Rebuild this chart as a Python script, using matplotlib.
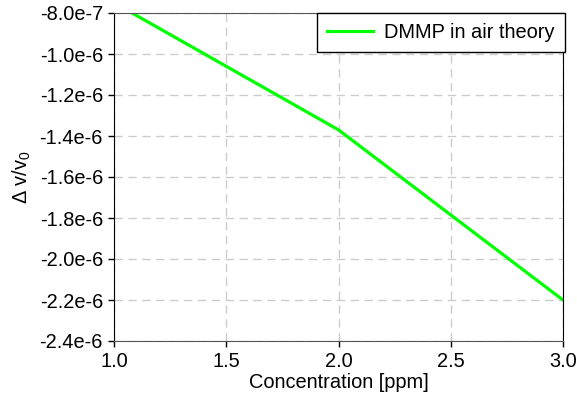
import matplotlib
matplotlib.use("Agg")
import matplotlib.pyplot as plt
from matplotlib.ticker import FuncFormatter

plt.rcParams['font.family'] = ['Liberation Sans', 'DejaVu Sans']
plt.rcParams['mathtext.fontset'] = 'custom'
plt.rcParams['mathtext.rm'] = 'Liberation Sans'
plt.rcParams['mathtext.it'] = 'Liberation Sans:italic'

concentration = [1.0, 1.5, 2.0, 2.5, 3.0]
delta_v = [-7.5e-7, -1.06e-6, -1.37e-6, -1.785e-6, -2.2e-6]
series_label = "DMMP in air theory"

FS = 14.4
fig = plt.figure(figsize=(5.77, 4.01), dpi=100)
ax = fig.add_axes([114/577, 1-341/401, (563-114)/577, (341-13)/401])
ax.plot(concentration, delta_v, color='#00ff00', lw=2.3, label=series_label)
ax.set_xlim(1.0, 3.0)
ax.set_ylim(-2.4e-6, -8.0e-7)
ax.set_xticks([1.0, 1.5, 2.0, 2.5, 3.0])
ax.set_yticks([-2.4e-6, -2.2e-6, -2.0e-6, -1.8e-6, -1.6e-6, -1.4e-6, -1.2e-6, -1.0e-6, -8.0e-7])

def fmt(v, pos):
    s = "%.1e" % v
    m, e = s.split('e')
    return "%se%d" % (m, int(e))

ax.yaxis.set_major_formatter(FuncFormatter(fmt))
ax.xaxis.set_major_formatter(FuncFormatter(lambda v, p: "%.1f" % v))
ax.tick_params(labelsize=FS, direction='out', length=4, width=1, colors='black', top=False, right=False, pad=4)
ax.grid(True, color='#cccccc', linestyle=(0, (6, 4)), lw=1)
for s in ['top', 'bottom']:
    ax.spines[s].set_color('#555555')
for s in ['left', 'right']:
    ax.spines[s].set_color('black')
ax.set_xlabel("Concentration [ppm]", fontsize=FS, labelpad=1)
ax.set_ylabel(r"$\Delta\ \mathrm{v/v}_0$", fontsize=FS, labelpad=5)
leg = ax.legend(loc='upper right', bbox_to_anchor=(1.004, 1.0), fontsize=FS, fancybox=False,
                framealpha=1, edgecolor='black', borderaxespad=0, handlelength=2.3,
                borderpad=0.5, handletextpad=0.55)
leg.get_frame().set_linewidth(1)
fig.savefig("out.png", dpi=100)
